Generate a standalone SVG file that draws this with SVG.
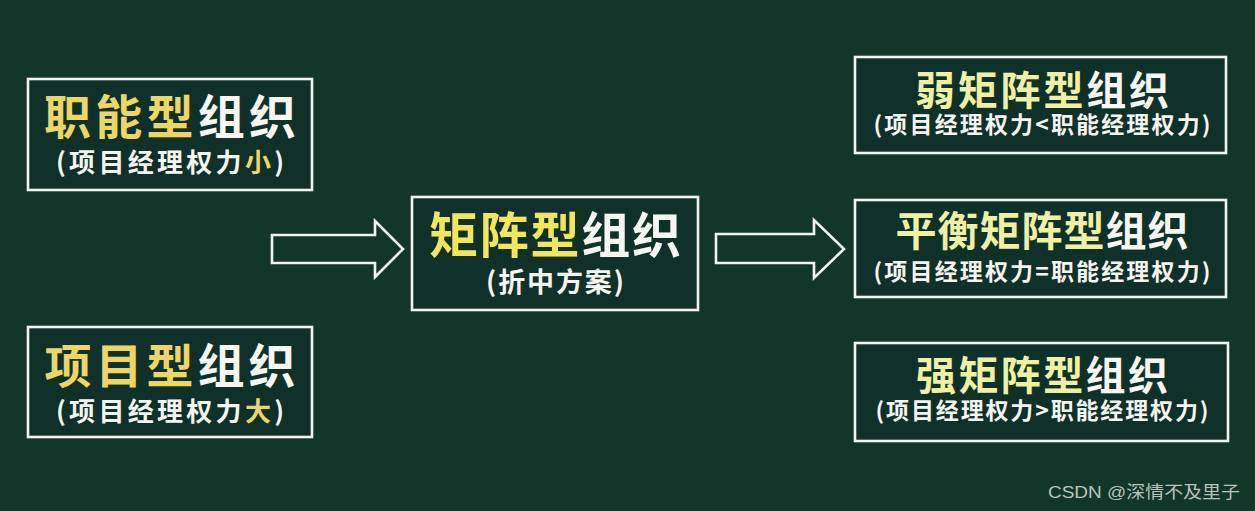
<svg xmlns="http://www.w3.org/2000/svg" width="1255" height="511" viewBox="0 0 1255 511">
<style>
.bg{fill:#12362a}
.box{fill:#10302a;stroke:#f2f4f0;stroke-width:2.6}
.arrow{fill:#12362a;stroke:#f2f4f0;stroke-width:2.6;stroke-linejoin:miter}
text{font-family:"Noto Sans CJK SC","Noto Sans",sans-serif;font-weight:700;text-anchor:middle}
.y1{fill:#ecd668}
.y2{fill:#f2e65e}
.y3{fill:#eef0a4}
.w{fill:#f6f6f2}
.sub{fill:#f4f4f0}
.wm{font-family:"Liberation Sans","Noto Sans CJK SC",sans-serif;font-weight:400;fill:#b8c4bc;text-anchor:start;font-size:17px}
</style>
<rect class="bg" x="0" y="0" width="1255" height="511"/>

<g id="connectors">
  <path class="arrow" d="M272,235 L375,235 L375,221 L403,249 L375,277 L375,263 L272,263 Z"/>
  <path class="arrow" d="M716,234 L814,234 L814,220 L844,249 L814,278 L814,263 L716,263 Z"/>
</g>

<g id="functional">
  <rect class="box" x="28" y="79" width="284" height="111"/>
  <text x="170" y="134" font-size="47" textLength="252" lengthAdjust="spacing"><tspan class="y1">职能型</tspan><tspan class="w">组织</tspan></text>
  <text class="sub" x="170" y="172" font-size="26" textLength="228" lengthAdjust="spacing">(项目经理权力<tspan class="y1">小</tspan>)</text>
</g>

<g id="project">
  <rect class="box" x="28" y="327" width="284" height="110"/>
  <text x="170" y="383" font-size="47" textLength="251" lengthAdjust="spacing"><tspan class="y1">项目型</tspan><tspan class="w">组织</tspan></text>
  <text class="sub" x="170" y="421" font-size="26" textLength="228" lengthAdjust="spacing">(项目经理权力<tspan class="y1">大</tspan>)</text>
</g>

<g id="matrix">
  <rect class="box" x="412" y="197" width="286" height="113"/>
  <text x="555" y="253" font-size="49" textLength="252" lengthAdjust="spacing"><tspan class="y2">矩阵型</tspan><tspan class="w">组织</tspan></text>
  <text class="sub" x="555" y="292" font-size="27" textLength="138" lengthAdjust="spacing">(折中方案)</text>
</g>

<g id="weak">
  <rect class="box" x="855" y="57" width="371" height="96"/>
  <text x="1042" y="105" font-size="40" textLength="254" lengthAdjust="spacing"><tspan class="y3">弱矩阵型</tspan><tspan class="w">组织</tspan></text>
  <text class="sub" x="1042" y="133" font-size="23" textLength="337" lengthAdjust="spacing">(项目经理权力&lt;职能经理权力)</text>
</g>

<g id="balanced">
  <rect class="box" x="855" y="200" width="371" height="97"/>
  <text x="1042" y="246" font-size="41" textLength="293" lengthAdjust="spacing"><tspan class="y3">平衡矩阵型</tspan><tspan class="w">组织</tspan></text>
  <text class="sub" x="1042" y="280" font-size="23" textLength="337" lengthAdjust="spacing">(项目经理权力=职能经理权力)</text>
</g>

<g id="strong">
  <rect class="box" x="855" y="343" width="373" height="98"/>
  <text x="1042" y="390" font-size="40" textLength="252" lengthAdjust="spacing"><tspan class="y3">强矩阵型</tspan><tspan class="w">组织</tspan></text>
  <text class="sub" x="1042" y="419" font-size="23" textLength="333" lengthAdjust="spacing">(项目经理权力&gt;职能经理权力)</text>
</g>

<text class="wm" x="1048" y="498" textLength="192" lengthAdjust="spacingAndGlyphs">CSDN @深情不及里子</text>
</svg>
